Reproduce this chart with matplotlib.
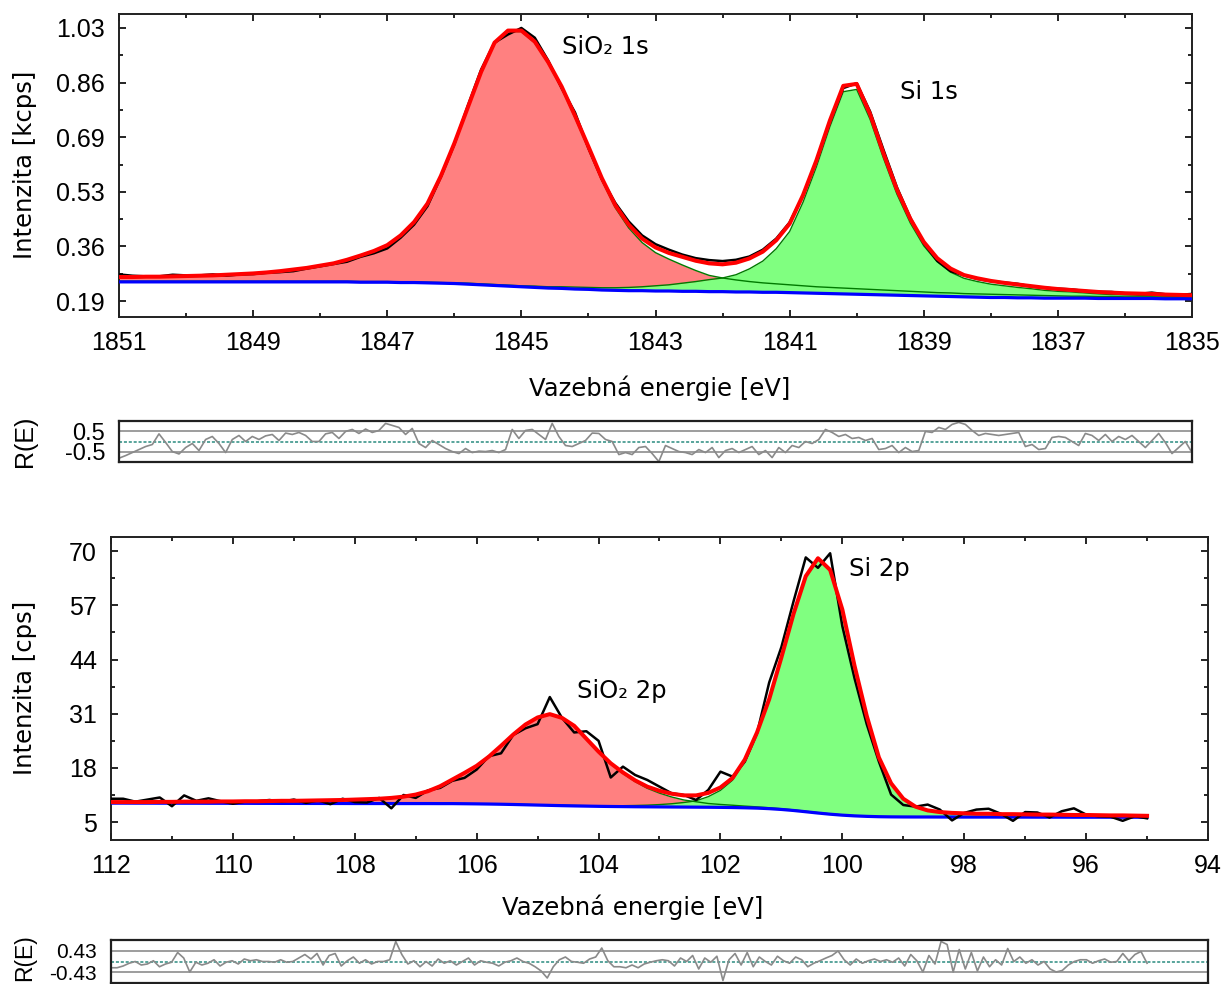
import numpy as np
import matplotlib.pyplot as plt
from matplotlib.ticker import AutoMinorLocator, MultipleLocator, FixedLocator

# ---- Si 1s region, kcps, 0.2 eV step from 1851 eV down to 1835 eV ----
si1s_meas = [0.272, 0.268, 0.266, 0.266, 0.271, 0.269, 0.269, 0.272, 0.268, 0.272,
             0.273, 0.277, 0.279, 0.282, 0.290, 0.297, 0.304, 0.311, 0.326, 0.337,
             0.352, 0.385, 0.425, 0.482, 0.572, 0.672, 0.790, 0.902, 0.985, 1.010,
             1.030, 1.000, 0.930, 0.845, 0.770, 0.660, 0.565, 0.492, 0.435, 0.392,
             0.365, 0.348, 0.333, 0.322, 0.316, 0.313, 0.317, 0.327, 0.348, 0.382,
             0.432, 0.514, 0.622, 0.740, 0.845, 0.860, 0.773, 0.655, 0.540, 0.446,
             0.368, 0.314, 0.282, 0.269, 0.258, 0.251, 0.247, 0.243, 0.235, 0.231,
             0.228, 0.226, 0.221, 0.218, 0.218, 0.214, 0.212, 0.216, 0.211, 0.209,
             0.212]
si1s_fit = [0.264, 0.264, 0.265, 0.265, 0.266, 0.267, 0.268, 0.269, 0.271, 0.273,
            0.275, 0.278, 0.282, 0.287, 0.292, 0.299, 0.306, 0.317, 0.330, 0.344,
            0.362, 0.392, 0.433, 0.490, 0.575, 0.675, 0.785, 0.895, 0.985, 1.022,
            1.022, 0.988, 0.925, 0.850, 0.760, 0.665, 0.568, 0.485, 0.425, 0.382,
            0.355, 0.338, 0.326, 0.314, 0.306, 0.303, 0.308, 0.321, 0.342, 0.377,
            0.428, 0.516, 0.623, 0.745, 0.852, 0.858, 0.765, 0.644, 0.533, 0.443,
            0.372, 0.322, 0.290, 0.270, 0.260, 0.252, 0.246, 0.241, 0.236, 0.231,
            0.227, 0.224, 0.221, 0.218, 0.216, 0.214, 0.213, 0.212, 0.210, 0.209,
            0.208]
si1s_sio2 = [0.262, 0.262, 0.263, 0.263, 0.264, 0.265, 0.266, 0.267, 0.269, 0.271,
             0.273, 0.276, 0.280, 0.285, 0.290, 0.297, 0.304, 0.315, 0.328, 0.342,
             0.360, 0.390, 0.431, 0.488, 0.573, 0.673, 0.782, 0.892, 0.982, 1.019,
             1.019, 0.984, 0.921, 0.845, 0.754, 0.659, 0.561, 0.477, 0.415, 0.370,
             0.339, 0.319, 0.301, 0.284, 0.269, 0.261, 0.255, 0.250, 0.246, 0.243,
             0.240, 0.237, 0.234, 0.232, 0.230, 0.228, 0.226, 0.224, 0.222, 0.220,
             0.218, 0.216, 0.215, 0.213, 0.212, 0.211, 0.210, 0.209, 0.208, 0.207,
             0.206, 0.205, 0.205, 0.204, 0.204, 0.203, 0.203, 0.203, 0.202, 0.202,
             0.202]
si1s_si = [0.251, 0.251, 0.251, 0.251, 0.251, 0.251, 0.251, 0.251, 0.251, 0.251,
           0.251, 0.251, 0.251, 0.251, 0.251, 0.251, 0.251, 0.251, 0.250, 0.250,
           0.250, 0.249, 0.249, 0.248, 0.247, 0.246, 0.245, 0.243, 0.241, 0.239,
           0.237, 0.236, 0.234, 0.234, 0.233, 0.232, 0.231, 0.231, 0.232, 0.234,
           0.237, 0.240, 0.245, 0.250, 0.256, 0.261, 0.271, 0.289, 0.313, 0.351,
           0.404, 0.494, 0.603, 0.726, 0.834, 0.841, 0.749, 0.629, 0.519, 0.430,
           0.360, 0.311, 0.279, 0.260, 0.250, 0.242, 0.237, 0.232, 0.228, 0.223,
           0.220, 0.218, 0.215, 0.212, 0.210, 0.209, 0.208, 0.207, 0.205, 0.204,
           0.203]
si1s_bg = [0.249, 0.249, 0.249, 0.249, 0.249, 0.249, 0.249, 0.249, 0.249, 0.249,
           0.249, 0.249, 0.249, 0.249, 0.249, 0.249, 0.249, 0.249, 0.248, 0.248,
           0.248, 0.247, 0.247, 0.246, 0.245, 0.244, 0.242, 0.240, 0.238, 0.236,
           0.234, 0.232, 0.230, 0.229, 0.227, 0.226, 0.224, 0.223, 0.222, 0.222,
           0.221, 0.221, 0.220, 0.220, 0.219, 0.219, 0.218, 0.218, 0.217, 0.217,
           0.216, 0.215, 0.214, 0.213, 0.212, 0.211, 0.210, 0.209, 0.208, 0.207,
           0.206, 0.205, 0.204, 0.203, 0.202, 0.201, 0.201, 0.200, 0.200, 0.199,
           0.199, 0.199, 0.199, 0.198, 0.198, 0.198, 0.198, 0.198, 0.197, 0.197,
           0.197]
si1s_resid = [-0.83, -0.70, -0.55, -0.40, -0.25, -0.15, 0.38, -0.05, -0.50, -0.62,
              -0.30, -0.10, -0.45, 0.10, 0.25, -0.10, -0.55, 0.10, 0.30, 0.00,
              0.25, 0.10, 0.28, 0.35, 0.05, 0.42, 0.35, 0.45, 0.30, 0.00,
              0.00, 0.38, 0.45, 0.15, 0.50, 0.60, 0.40, 0.62, 0.45, 0.55,
              0.90, 0.80, 0.70, 0.35, 0.65, -0.10, -0.30, 0.05, -0.15, -0.35,
              -0.50, -0.60, -0.35, -0.55, -0.48, -0.50, -0.45, -0.55, -0.40, 0.60,
              0.15, 0.55, 0.60, 0.35, 0.10, 0.90, 0.25, -0.20, -0.25, -0.10,
              0.05, 0.42, 0.40, 0.10, 0.00, -0.65, -0.55, -0.65, -0.30, -0.25,
              -0.60, -1.00, -0.20, -0.35, -0.50, -0.55, -0.65, -0.40, -0.55, -0.30,
              -0.80, -0.45, -0.35, -0.55, -0.40, -0.25, -0.65, -0.45, -0.80, -0.30,
              -0.55, -0.20, -0.30, 0.00, -0.10, 0.10, 0.60, 0.45, 0.25, 0.35,
              0.15, 0.20, 0.05, 0.15, -0.40, -0.35, -0.20, -0.55, -0.30, -0.50,
              -0.45, 0.50, 0.45, 0.70, 0.60, 0.85, 0.95, 0.85, 0.55, 0.30,
              0.40, 0.35, 0.30, 0.35, 0.40, 0.45, -0.25, -0.15, -0.40, -0.35,
              0.20, 0.25, 0.20, 0.00, -0.20, 0.40, 0.30, 0.05, 0.35, 0.00,
              0.25, 0.10, 0.30, 0.00, -0.30, 0.05, 0.40, -0.05, -0.60, -0.30,
              0.00, -0.55]

# ---- Si 2p region, cps, 0.2 eV step from 112 eV down to 95 eV ----
si2p_meas = [10.6, 10.6, 9.9, 10.4, 10.9, 8.8, 11.4, 10.1, 10.7, 10.0,
             9.4, 9.9, 10.0, 10.3, 9.9, 10.4, 9.6, 10.2, 9.3, 10.6,
             9.8, 9.7, 10.8, 8.3, 11.5, 10.8, 12.6, 13.2, 14.9, 15.6,
             17.6, 20.8, 21.5, 25.9, 27.5, 28.5, 35.0, 30.0, 26.5, 26.8,
             24.5, 15.7, 18.3, 16.3, 15.1, 13.5, 11.9, 11.5, 10.3, 12.7,
             17.1, 15.9, 19.5, 26.3, 38.5, 47.0, 58.0, 68.5, 66.0, 69.5,
             52.0, 39.5, 28.5, 19.5, 11.6, 9.1, 8.7, 9.2, 8.0, 5.4,
             7.2, 8.0, 8.2, 7.0, 5.3, 7.4, 7.3, 6.1, 7.6, 8.3,
             6.8, 6.4, 6.3, 5.3, 6.4, 5.9]
si2p_fit = [9.80, 9.80, 9.80, 9.80, 9.85, 9.85, 9.90, 9.90, 9.90, 9.95,
            9.95, 10.0, 10.0, 10.05, 10.1, 10.1, 10.15, 10.2, 10.25, 10.3,
            10.4, 10.5, 10.6, 10.8, 11.1, 11.6, 12.4, 13.6, 15.2, 16.8,
            18.5, 20.7, 23.3, 26.0, 28.4, 30.1, 30.9, 30.0, 28.1, 25.0,
            21.9, 19.1, 16.9, 15.0, 13.5, 12.5, 11.8, 11.4, 11.4, 12.0,
            13.3, 15.6, 20.0, 26.5, 34.5, 44.5, 55.0, 64.0, 68.3, 65.5,
            56.0, 42.5, 30.5, 20.5, 14.3, 10.6, 8.7, 7.8, 7.4, 7.2,
            7.1, 7.0, 7.0, 6.9, 6.9, 6.85, 6.8, 6.8, 6.75, 6.7,
            6.7, 6.65, 6.6, 6.6, 6.55, 6.5]
si2p_sio2 = [9.78, 9.78, 9.78, 9.78, 9.83, 9.83, 9.88, 9.88, 9.88, 9.93,
             9.93, 9.98, 9.98, 10.03, 10.08, 10.08, 10.13, 10.18, 10.23, 10.28,
             10.38, 10.48, 10.58, 10.78, 11.08, 11.58, 12.37, 13.57, 15.17, 16.76,
             18.46, 20.65, 23.25, 25.94, 28.33, 30.03, 30.82, 29.91, 28.0, 24.89,
             21.78, 18.94, 16.68, 14.70, 13.10, 11.94, 11.02, 10.30, 9.88, 9.46,
             9.23, 9.04, 8.83, 8.65, 8.44, 8.20, 7.93, 7.60, 7.27, 6.97,
             6.72, 6.53, 6.40, 6.31, 6.27, 6.24, 6.23, 6.23, 6.22, 6.22,
             6.21, 6.21, 6.21, 6.20, 6.20, 6.20, 6.19, 6.19, 6.19, 6.18,
             6.18, 6.18, 6.17, 6.17, 6.17, 6.16]
si2p_si = [9.57, 9.57, 9.56, 9.56, 9.55, 9.55, 9.54, 9.54, 9.53, 9.53,
           9.52, 9.52, 9.51, 9.51, 9.50, 9.50, 9.49, 9.49, 9.48, 9.48,
           9.47, 9.47, 9.47, 9.46, 9.46, 9.46, 9.47, 9.46, 9.46, 9.44,
           9.41, 9.38, 9.33, 9.28, 9.22, 9.15, 9.09, 9.03, 8.98, 8.94,
           8.90, 8.90, 8.93, 8.98, 9.06, 9.20, 9.40, 9.70, 10.1, 11.1,
           12.6, 15.05, 19.6, 26.2, 34.28, 44.33, 54.85, 63.88, 68.2, 65.42,
           55.94, 42.46, 30.47, 20.48, 14.28, 10.59, 8.69, 7.79, 7.39, 7.19,
           7.09, 6.99, 6.99, 6.89, 6.89, 6.84, 6.79, 6.79, 6.74, 6.69,
           6.69, 6.64, 6.59, 6.59, 6.54, 6.49]
si2p_bg = [9.55, 9.55, 9.54, 9.54, 9.53, 9.53, 9.52, 9.52, 9.51, 9.51,
           9.50, 9.50, 9.49, 9.49, 9.48, 9.48, 9.47, 9.47, 9.46, 9.46,
           9.45, 9.45, 9.45, 9.44, 9.44, 9.44, 9.44, 9.43, 9.43, 9.40,
           9.37, 9.33, 9.28, 9.22, 9.15, 9.08, 9.01, 8.94, 8.88, 8.83,
           8.78, 8.74, 8.71, 8.68, 8.66, 8.64, 8.62, 8.60, 8.58, 8.56,
           8.53, 8.49, 8.43, 8.35, 8.22, 8.03, 7.78, 7.48, 7.17, 6.89,
           6.66, 6.49, 6.37, 6.29, 6.25, 6.23, 6.22, 6.22, 6.21, 6.21,
           6.20, 6.20, 6.20, 6.19, 6.19, 6.19, 6.18, 6.18, 6.18, 6.17,
           6.17, 6.17, 6.16, 6.16, 6.16, 6.15]
si2p_resid = [-0.25, -0.25, -0.18, -0.07, 0.00, -0.14, -0.10, 0.03, -0.21, -0.10,
              -0.03, 0.36, 0.14, -0.42, -0.03, -0.14, -0.07, 0.07, -0.18, -0.03,
              0.03, -0.10, 0.10, 0.03, 0.07, 0.00, 0.00, -0.03, 0.07, -0.03,
              0.00, 0.14, 0.28, 0.10, 0.32, -0.14, 0.24, 0.32, -0.18, 0.03,
              0.18, -0.07, 0.07, -0.10, 0.00, 0.00, 0.07, 0.80, 0.28, -0.10,
              0.03, -0.21, 0.00, -0.18, 0.10, -0.07, 0.03, -0.14, 0.00, 0.14,
              -0.14, 0.03, -0.03, -0.07, -0.18, -0.03, 0.03, 0.14, 0.00, -0.07,
              -0.21, -0.38, -0.66, -0.21, 0.07, 0.18, 0.00, -0.03, -0.07, 0.10,
              0.18, 0.54, 0.03, -0.21, -0.21, -0.25, -0.14, -0.25, -0.10, -0.03,
              0.03, 0.07, 0.03, -0.18, 0.14, 0.00, 0.24, -0.30, 0.14, -0.03,
              0.21, -0.76, 0.07, 0.32, -0.14, 0.36, -0.21, 0.18, 0.00, -0.14,
              0.21, 0.03, -0.07, 0.18, 0.07, -0.21, -0.07, 0.03, 0.14, 0.24,
              0.42, 0.07, -0.14, 0.10, -0.07, 0.03, 0.10, 0.00, 0.07, -0.03,
              0.14, -0.18, 0.28, 0.03, -0.42, 0.24, -0.10, 0.80, 0.68, -0.42,
              0.48, -0.30, 0.36, -0.38, 0.18, -0.21, 0.07, -0.14, 0.52, 0.00,
              0.18, -0.07, 0.07, -0.14, 0.00, -0.30, -0.42, -0.36, -0.14, 0.00,
              0.07, 0.07, -0.07, 0.03, 0.10, -0.03, 0.00, 0.32, 0.03, 0.28,
              0.40, -0.07]

# axis ticks
si1s_yticks = [0.19, 0.358, 0.526, 0.694, 0.862, 1.03]
si1s_ylabels = ['0.19', '0.36', '0.53', '0.69', '0.86', '1.03']
si1s_xticks = [1851, 1849, 1847, 1845, 1843, 1841, 1839, 1837, 1835]
si2p_yticks = [5, 18, 31, 44, 57, 70]

E1 = np.linspace(1851, 1835, len(si1s_meas))
E1r = np.linspace(1851, 1835, len(si1s_resid))
E2 = np.linspace(112, 95, len(si2p_meas))
E2r = np.linspace(112, 95, len(si2p_resid))

TICKFONT = 'Liberation Sans'
LABELFONT = 'DejaVu Sans'
W, H = 1230, 984

fig = plt.figure(figsize=(12.3, 9.84), dpi=100)


def box(l, t, r, b):
    # pixel box -> figure fraction axes
    return fig.add_axes([l / W, 1 - b / H, (r - l) / W, (b - t) / H])


def style_main(ax):
    for s in ax.spines.values():
        s.set_linewidth(1.4)
        s.set_color('#202020')
    ax.tick_params(which='both', direction='in', top=True, right=True,
                   width=1.2, labelsize=18, pad=10)
    ax.tick_params(which='major', length=5)
    ax.tick_params(which='minor', length=3)
    for lab in ax.get_xticklabels() + ax.get_yticklabels():
        lab.set_family(TICKFONT)


def draw_spectrum(ax, E, meas, fit, c1, c2, bg):
    ax.fill_between(E, bg, c1, color='#ff8080', lw=0, zorder=1)
    ax.fill_between(E, bg, c2, color='#80ff80', lw=0, zorder=2)
    ax.plot(E, c1, color='#007a00', lw=1.0, zorder=3)
    ax.plot(E, c2, color='#007a00', lw=1.0, zorder=3)
    ax.plot(E, bg, color='#0000ff', lw=2.3, zorder=4)
    ax.plot(E, meas, color='black', lw=1.8, zorder=5)
    ax.plot(E, fit, color='#ff0000', lw=2.9, zorder=6, solid_joinstyle='round')


def draw_resid(ax, E, r, lim, xlim, ticks, labels, fs):
    ax.axhline(ticks[0], color='#8c8c8c', lw=1.2)
    ax.axhline(ticks[1], color='#8c8c8c', lw=1.2)
    ax.axhline(0, color='#2b8c80', lw=1.1, ls=(0, (2, 1.2)))
    ax.plot(E, r, color='#8a8a8a', lw=1.2)
    ax.set_xlim(*xlim)
    ax.set_ylim(-lim, lim)
    ax.set_xticks([])
    ax.set_yticks(ticks)
    ax.set_yticklabels(labels, family=TICKFONT, fontsize=fs)
    ax.tick_params(axis='y', length=0, pad=10)
    for s in ax.spines.values():
        s.set_linewidth(1.6)
        s.set_color('#202020')


# Si 1s spectrum
ax1 = box(119, 14, 1192, 317)
draw_spectrum(ax1, E1, si1s_meas, si1s_fit, si1s_sio2, si1s_si, si1s_bg)
ax1.set_xlim(1851, 1835)
ax1.set_ylim(0.141, 1.073)
ax1.xaxis.set_major_locator(FixedLocator(si1s_xticks))
ax1.xaxis.set_minor_locator(MultipleLocator(1))
ax1.set_yticks(si1s_yticks)
ax1.set_yticklabels(si1s_ylabels)
ax1.yaxis.set_minor_locator(AutoMinorLocator(2))
style_main(ax1)
ax1.text(1844.39, 0.971, 'SiO₂ 1s', family=LABELFONT, fontsize=17.5, va='center')
ax1.text(1839.35, 0.833, 'Si 1s', family=LABELFONT, fontsize=17.5, va='center')

# Si 1s residuals
ax1r = box(119, 421, 1192, 462)
draw_resid(ax1r, E1r, si1s_resid, 1.02, (1851, 1835), [0.5, -0.5], ['0.5', '-0.5'], 17)

# Si 2p spectrum
ax2 = box(111, 537, 1208, 840)
draw_spectrum(ax2, E2, si2p_meas, si2p_fit, si2p_sio2, si2p_si, si2p_bg)
ax2.set_xlim(112, 94)
ax2.set_ylim(0.7, 73.4)
ax2.xaxis.set_major_locator(MultipleLocator(2))
ax2.xaxis.set_minor_locator(MultipleLocator(1))
ax2.set_yticks(si2p_yticks)
ax2.yaxis.set_minor_locator(AutoMinorLocator(2))
style_main(ax2)
ax2.text(99.89, 65.7, 'Si 2p', family=LABELFONT, fontsize=17.5, va='center')
ax2.text(104.36, 36.4, 'SiO₂ 2p', family=LABELFONT, fontsize=17.5, va='center')

# Si 2p residuals, its box sits against the bottom edge of the figure
ax2r = box(111, 940, 1208, 983)
draw_resid(ax2r, E2r, si2p_resid, 0.86, (112, 94), [0.43, -0.43], ['0.43', '-0.43'], 15)

# axis titles
fig.text(25 / W, 1 - 165 / H, 'Intenzita [kcps]', rotation=90, ha='center', va='center',
         family=LABELFONT, fontsize=17.5)
fig.text(660 / W, 1 - 388 / H, 'Vazebná energie [eV]', ha='center', va='center',
         family=LABELFONT, fontsize=17.5)
fig.text(25 / W, 1 - 441 / H, 'R(E)', rotation=90, ha='center', va='center',
         family=TICKFONT, fontsize=18)
fig.text(25 / W, 1 - 688 / H, 'Intenzita [cps]', rotation=90, ha='center', va='center',
         family=LABELFONT, fontsize=17.5)
fig.text(633 / W, 1 - 907 / H, 'Vazebná energie [eV]', ha='center', va='center',
         family=LABELFONT, fontsize=17.5)
fig.text(25 / W, 1 - 958 / H, 'R(E)', rotation=90, ha='center', va='center',
         family=TICKFONT, fontsize=16.5)

fig.savefig('out.png', dpi=100)
